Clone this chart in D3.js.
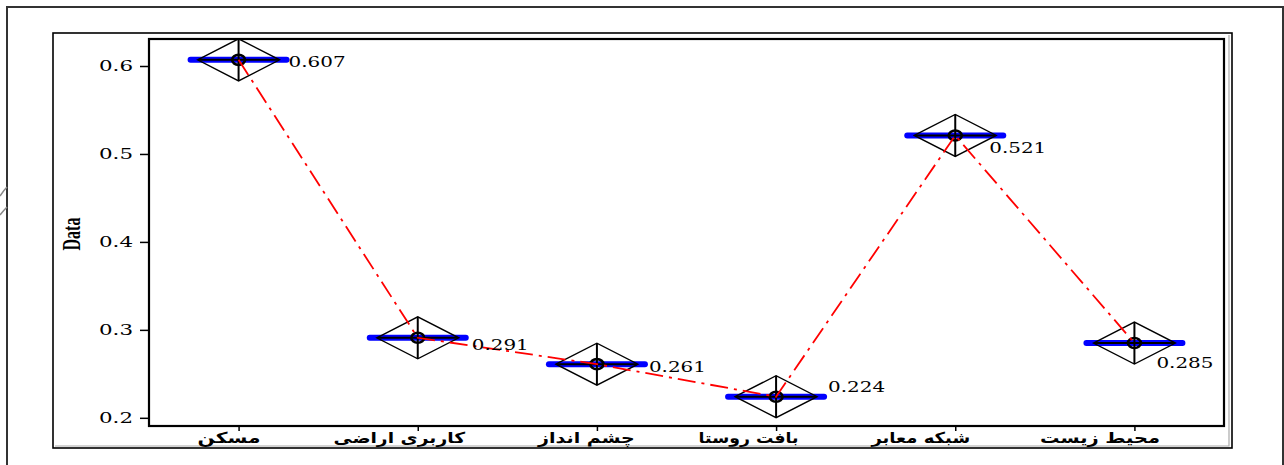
<!DOCTYPE html>
<html><head><meta charset="utf-8">
<script src="https://cdn.jsdelivr.net/npm/d3@7"></script>
<style>body{margin:0;background:#fff}svg{display:block}</style>
</head><body>
<svg id="c" width="1284" height="465"></svg>
<script>
const categories = ["مسکن", "کاربری اراضی", "چشم انداز", "بافت روستا", "شبکه معابر", "محیط زیست"];
const values = [0.607, 0.291, 0.261, 0.224, 0.521, 0.285];
const valueLabels = ["0.607", "0.291", "0.261", "0.224", "0.521", "0.285"];
const yTicks = [0.2, 0.3, 0.4, 0.5, 0.6];
const yTickLabels = ["0.2", "0.3", "0.4", "0.5", "0.6"];
const yTitle = "Data";

const svg = d3.select("#c");
const L = 149, R = 1224, T = 39, B = 426;

const x = d3.scalePoint().domain(categories).range([L, R]).padding(0.5);
const y = d3.scaleLinear().domain([0.1907, 0.6307]).range([B, T]);

// frames
svg.append("path").attr("d", "M7,465 V7 H1283 V465").attr("fill", "none").attr("stroke", "#333").attr("stroke-width", 2);
svg.append("path").attr("d", "M0,196 Q4,190 7,187").attr("fill", "none").attr("stroke", "#888").attr("stroke-width", 1.5);
svg.append("path").attr("d", "M0,215 Q4,210 7,207").attr("fill", "none").attr("stroke", "#888").attr("stroke-width", 1.5);
svg.append("rect").attr("x", 53).attr("y", 33).attr("width", 1179).attr("height", 415)
  .attr("fill", "none").attr("stroke", "#000").attr("stroke-width", 1.6);
svg.append("path").attr("d", "M1229,35 V446 H55").attr("fill", "none").attr("stroke", "#aaa").attr("stroke-width", 1.2);
svg.append("rect").attr("x", L).attr("y", T).attr("width", R - L).attr("height", B - T)
  .attr("fill", "none").attr("stroke", "#000").attr("stroke-width", 2.2);

// y axis
const yAxis = d3.axisLeft(y).tickValues(yTicks).tickSize(9).tickFormat((d, i) => yTickLabels[i]);
const ga = svg.append("g").attr("transform", `translate(${L},0)`).call(yAxis);
ga.select(".domain").remove();
ga.selectAll(".tick line").attr("stroke", "#000").attr("stroke-width", 1.5);
ga.selectAll(".tick text").attr("x", -16).attr("dy", "0.35em")
  .attr("font-family", "DejaVu Serif").attr("font-size", 14).attr("fill", "#000")
  .attr("textLength", 34).attr("lengthAdjust", "spacingAndGlyphs");

// x axis
const xAxis = d3.axisBottom(x).tickSize(5).tickPadding(3);
const gx = svg.append("g").attr("transform", `translate(0,${B})`).call(xAxis);
gx.select(".domain").remove();
gx.selectAll(".tick line").attr("stroke", "#000").attr("stroke-width", 1.5);
// label layout: horizontal shift from tick and rendered width
const xLabShift = [-10, -19, -11, -28, -35, -35];
const xLabWidth = [63, 132, 98, 100, 100, 120];
gx.selectAll(".tick text").attr("y", 0).attr("dy", 17)
  .attr("font-family", "DejaVu Sans").attr("font-weight", "bold").attr("font-size", 15).attr("fill", "#000")
  .attr("letter-spacing", 1.2)
  .each(function (d, i) {
    const w = this.getBBox().width || 1;
    const s = xLabWidth[i] / w;
    d3.select(this).attr("transform", `translate(${xLabShift[i]},0) scale(${s},1)`);
  });

// y title
svg.append("text").attr("transform", "translate(80,234) rotate(-90)")
  .attr("text-anchor", "middle").attr("font-family", "Liberation Serif").attr("font-weight", "bold")
  .attr("font-size", 25).attr("textLength", 33).attr("lengthAdjust", "spacingAndGlyphs").text(yTitle);

// markers
const pts = categories.map((c, i) => ({ c, v: values[i], lab: valueLabels[i], i }));
const g = svg.append("g");
pts.forEach(p => {
  const cx = x(p.c), cy = y(p.v);
  g.append("line").attr("x1", cx - 48).attr("x2", cx + 48).attr("y1", cy).attr("y2", cy)
    .attr("stroke", "#0000ff").attr("stroke-width", 6).attr("stroke-linecap", "round");
  g.append("line").attr("x1", cx - 40).attr("x2", cx + 40).attr("y1", cy).attr("y2", cy)
    .attr("stroke", "#000").attr("stroke-width", 2);
  g.append("path").attr("d", `M${cx - 41},${cy}L${cx},${cy - 21}L${cx + 41},${cy}L${cx},${cy + 21}Z`)
    .attr("fill", "none").attr("stroke", "#000").attr("stroke-width", 1.4);
  g.append("line").attr("x1", cx).attr("x2", cx).attr("y1", cy - 21).attr("y2", cy + 21)
    .attr("stroke", "#000").attr("stroke-width", 2);
  g.append("ellipse").attr("cx", cx).attr("cy", cy).attr("rx", 6.5).attr("ry", 5)
    .attr("fill", "none").attr("stroke", "#000").attr("stroke-width", 2.6);
});

// connecting line
svg.append("path").datum(pts)
  .attr("d", d3.line().x(p => x(p.c)).y(p => y(p.v)))
  .attr("fill", "none").attr("stroke", "#ff0000").attr("stroke-width", 1.8)
  .attr("stroke-dasharray", "18,6,3,6");

// value labels (placement offsets)
const labOff = [[50, 7], [54, 12], [52, 8], [52, -5], [34, 18], [22, 25]];
pts.forEach(p => {
  svg.append("text").attr("x", x(p.c) + labOff[p.i][0]).attr("y", y(p.v) + labOff[p.i][1])
    .attr("font-family", "DejaVu Serif").attr("font-size", 14).attr("fill", "#000")
    .attr("textLength", 57).attr("lengthAdjust", "spacingAndGlyphs").text(p.lab);
});
</script>
</body></html>
